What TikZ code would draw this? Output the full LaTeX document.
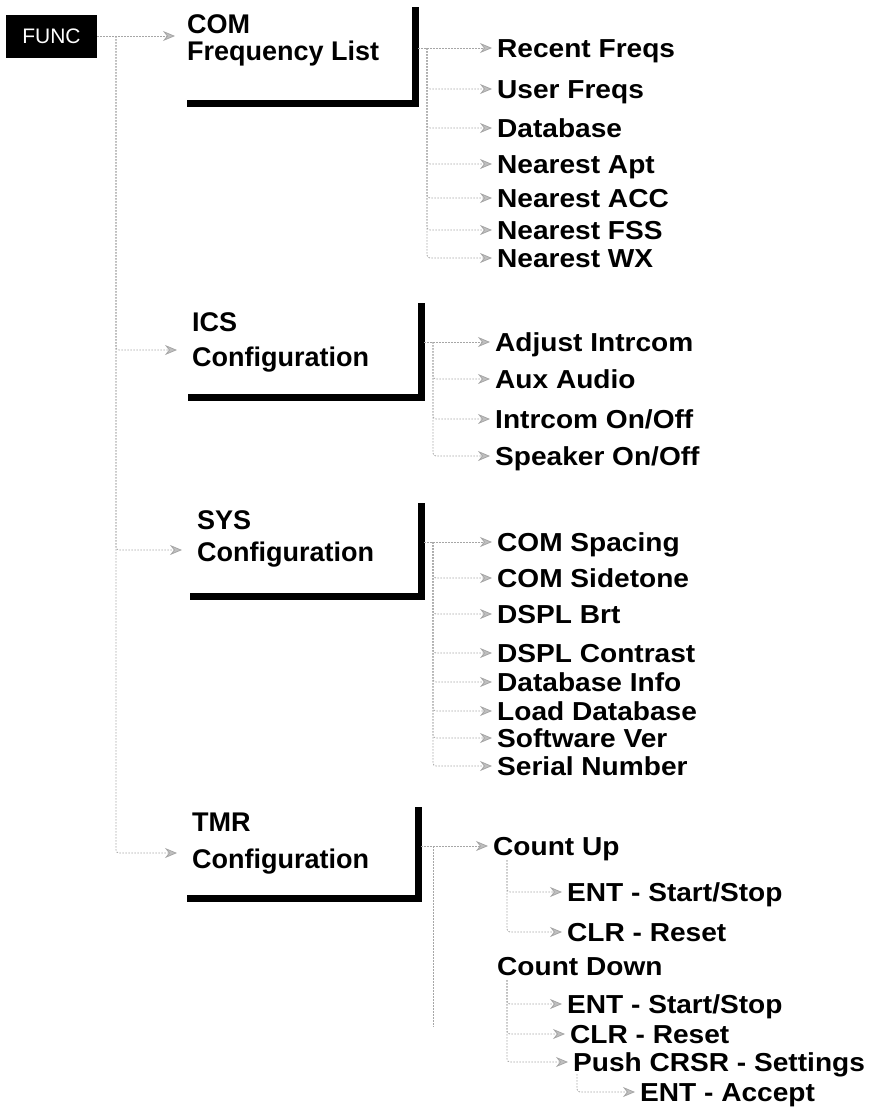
\documentclass[tikz,border=0pt]{standalone}
\usepackage{fontspec}
\setmainfont{Liberation Sans}
\newfontfamily\itemfont{Liberation Sans}[FakeStretch=1.08]
\usetikzlibrary{arrows.meta}

\begin{document}
\begin{tikzpicture}[x=1pt,y=-1pt,
			item/.style = {anchor=west, inner sep=0pt, text height=18.6pt, text depth=0pt,
				font=\itemfont\fontsize{26}{30}\selectfont\bfseries},
			title/.style = {anchor=west, inner sep=0pt, text height=19.3pt, text depth=0pt,
				font=\fontsize{27}{30}\selectfont\bfseries},
			key/.style = {fill=black, text=white, minimum width=91pt, minimum height=43pt,
				inner sep=0pt, font=\fontsize{21}{24}\selectfont},
			bar/.style = {line width=7pt},
			link/.style = {draw=gray!70, line width=0.8pt, dash pattern=on 1.5pt off 1.5pt,
				rounded corners=3pt},
			conn/.style = {link, -{Stealth[length=12pt,width=10pt,fill=gray!50]}, shorten >=5pt}]

			\useasboundingbox (0,0) rectangle (869,1112);

			% left column
			\node[key] (func) at (51.5,36) {FUNC};
			\node[title] (com) at (187,24) {COM};
			\node[title] (comfreq) at (187,51) {Frequency List};
			\node[title] (ics) at (192,322) {ICS};
			\node[title] (icsconf) at (192,357) {Configuration};
			\node[title] (sys) at (197,520) {SYS};
			\node[title] (sysconf) at (197,552) {Configuration};
			\node[title] (tmr) at (192,822) {TMR};
			\node[title] (tmrconf) at (192,859) {Configuration};

			\draw[bar] (187,103) -| (415,7);
			\draw[bar] (188,397) -| (421,303);
			\draw[bar] (190,596) -| (421,503);
			\draw[bar] (187,898) -| (418,807);

			\coordinate (fork) at (116,36);
			\draw[conn, shorten >=12pt] (func.east) -- (func.east -| com.west);
			\draw[conn, shorten >=15pt] (fork) |- ([yshift=7pt]icsconf.west);
			\draw[conn, shorten >=15pt] (fork) |- ([yshift=2pt]sysconf.west);
			\draw[conn, shorten >=15pt] (fork) |- ([yshift=6pt]tmrconf.west);

			% COM
			\node[item] (recent) at (497,48) {Recent Freqs};
			\node[item] (user) at (497,89) {User Freqs};
			\node[item] (database) at (497,128) {Database};
			\node[item] (apt) at (497,164) {Nearest Apt};
			\node[item] (acc) at (497,198) {Nearest ACC};
			\node[item] (fss) at (497,230) {Nearest FSS};
			\node[item] (wx) at (497,258) {Nearest WX};
			\coordinate (combar) at (418,48);
			\coordinate (comfork) at (427,48);
			\draw[conn] (combar) -- (recent.west);
			\foreach \n in {user,database,apt,acc,fss,wx}
				\draw[conn] (comfork) |- (\n.west);

			% ICS
			\node[item] (adjust) at (495,342) {Adjust Intrcom};
			\node[item] (aux) at (495,379) {Aux Audio};
			\node[item] (intrcom) at (495,419) {Intrcom On/Off};
			\node[item] (speaker) at (495,456) {Speaker On/Off};
			\coordinate (icsbar) at (424,342);
			\coordinate (icsfork) at (433,342);
			\draw[conn] (icsbar) -- (adjust.west);
			\foreach \n in {aux,intrcom,speaker}
				\draw[conn] (icsfork) |- (\n.west);

			% SYS
			\node[item] (spacing) at (497,542) {COM Spacing};
			\node[item] (sidetone) at (497,578) {COM Sidetone};
			\node[item] (brt) at (497,614) {DSPL Brt};
			\node[item] (contrast) at (497,653) {DSPL Contrast};
			\node[item] (dbinfo) at (497,682) {Database Info};
			\node[item] (load) at (497,711) {Load Database};
			\node[item] (swver) at (497,738) {Software Ver};
			\node[item] (serial) at (497,766) {Serial Number};
			\coordinate (sysbar) at (424,542);
			\coordinate (sysfork) at (433,542);
			\draw[conn] (sysbar) -- (spacing.west);
			\foreach \n in {sidetone,brt,contrast,dbinfo,load,swver,serial}
				\draw[conn] (sysfork) |- (\n.west);

			% TMR
			\node[item] (countup) at (493,846) {Count Up};
			\node[item] (upent) at (567,892) {ENT - Start/Stop};
			\node[item] (upclr) at (567,932) {CLR - Reset};
			\node[item] (countdown) at (497,966) {Count Down};
			\node[item] (downent) at (567,1004) {ENT - Start/Stop};
			\node[item] (downclr) at (570,1034) {CLR - Reset};
			\node[item] (push) at (573,1062) {Push CRSR - Settings};
			\node[item] (accept) at (640,1092) {ENT - Accept};
			\coordinate (tmrbar) at (421,846);
			\coordinate (tmrfork) at (433,846);
			\coordinate (tmrend) at (433,1027);
			\draw[conn] (tmrbar) -- (countup.west);
			\draw[link] (tmrfork) -- (tmrend);
			\coordinate (upfork) at (507,860);
			\draw[conn] (upfork) |- (upent.west);
			\draw[conn] (upfork) |- (upclr.west);
			\coordinate (downfork) at (507,980);
			\foreach \n in {downent,downclr,push}
				\draw[conn] (downfork) |- (\n.west);
			\coordinate (pushfork) at (577,1074);
			\draw[conn] (pushfork) |- (accept.west);
\end{tikzpicture}
\end{document}
